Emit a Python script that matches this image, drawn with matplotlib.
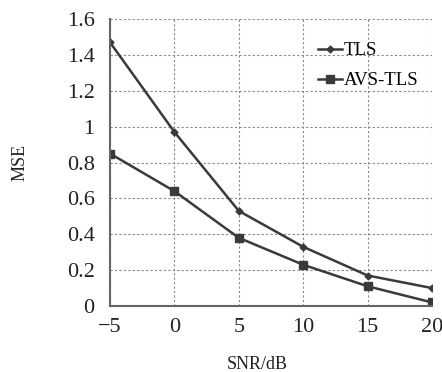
import matplotlib
matplotlib.use("Agg")
import matplotlib.pyplot as plt

snr = [-5, 0, 5, 10, 15, 20]
tls = [1.47, 0.97, 0.53, 0.33, 0.17, 0.10]
avs_tls = [0.85, 0.64, 0.38, 0.23, 0.11, 0.02]
xticks = [-5, 0, 5, 10, 15, 20]
xtick_labels = ["\u22125", "0", "5", "10", "15", "20"]
yticks = [0, 0.2, 0.4, 0.6, 0.8, 1.0, 1.2, 1.4, 1.6]
ytick_labels = ["0", "0.2", "0.4", "0.6", "0.8", "1", "1.2", "1.4", "1.6"]

plt.rcParams['font.family'] = ['Liberation Serif', 'DejaVu Serif']

fig = plt.figure(figsize=(4.42, 3.72), dpi=100)
x0, x1, y0, y1 = 110, 432, 306, 19
ax = fig.add_axes([x0/442, 1 - y0/372, (x1-x0)/442, (y0-y1)/372])

col = '#3a3a3a'
ax.plot(snr, tls, color=col, lw=1.8, marker='D', ms=3.5, label='TLS')
ax.plot(snr, avs_tls, color=col, lw=1.8, marker='s', ms=6, label='AVS-TLS')

ax.set_xlim(-5, 20)
ax.set_ylim(0, 1.6)
ax.set_xticks(xticks)
ax.set_xticklabels(xtick_labels)
ax.set_yticks(yticks)
ax.set_yticklabels(ytick_labels)
ax.tick_params(length=0, labelsize=16, colors='#222222')
ax.tick_params(axis='y', pad=11)
ax.tick_params(axis='x', pad=9)

ax.grid(True, ls=(0, (2, 2)), color='#888888', lw=0.8)
ax.spines['top'].set_visible(False)
ax.spines['right'].set_visible(False)
for s in ['left', 'bottom']:
    ax.spines[s].set_color('#666666')
    ax.spines[s].set_linewidth(1.5)
ax.set_axisbelow(True)

ax.set_ylabel('MSE', fontsize=13, color='#222222')
ax.yaxis.set_label_coords((29 - x0)/(x1 - x0), 0.5)
ax.set_xlabel('SNR/dB', fontsize=13, color='#222222')
ax.xaxis.set_label_coords((257 - x0)/(x1 - x0), (y0 - 356)/(y0 - y1))

leg = ax.legend(loc='upper left', bbox_to_anchor=((318 - x0)/(x1 - x0), (y0 - 42)/(y0 - y1)),
                frameon=False, fontsize=13.5, handlelength=1.3, handletextpad=0.05,
                labelspacing=0.7, borderpad=0, borderaxespad=0)

fig.savefig('out.png', dpi=100)
